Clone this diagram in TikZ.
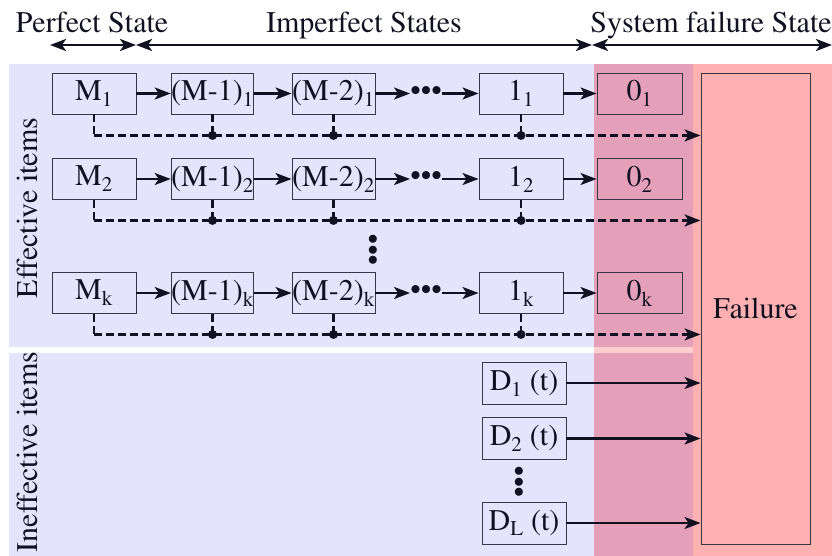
\documentclass[tikz,border=0pt]{standalone}
\usepackage[T1]{fontenc}
\renewcommand{\rmdefault}{ptm}
\usetikzlibrary{arrows.meta, positioning, calc}
\definecolor{state-blue}{RGB}{228,228,252}
\definecolor{state-pink}{RGB}{255,176,176}
\definecolor{state-mix}{RGB}{228,160,184}
\definecolor{state-gap}{RGB}{255,206,206}
\definecolor{state-ink}{RGB}{17,17,34}
\definecolor{state-line}{RGB}{55,55,70}

\begin{document}
\begin{tikzpicture}[x=1pt, y=-1pt,
  font=\rmfamily\fontsize{30}{34}\selectfont,
  state/.style={draw=state-line, line width=0.9pt, minimum width=84pt, minimum height=41pt, inner sep=0pt, text=state-ink},
  flow/.style={line width=2.5pt, draw=state-ink, -{Stealth[length=16pt,width=12pt,inset=4pt]}},
  link/.style={line width=2.5pt, draw=state-ink, dash pattern=on 8pt off 4pt},
  span/.style={line width=2.5pt, draw=state-ink, {Stealth[length=16pt,width=12pt,inset=4pt]}-{Stealth[length=16pt,width=12pt,inset=4pt]}},
  joint/.style={circle, fill=state-ink, inner sep=0pt, minimum size=9pt},
  dotsbox/.style={inner sep=0pt, text=state-ink},
]
  \useasboundingbox (0,0) rectangle (832,556);

  % Backgrounds
  \fill[state-pink] (594,64) rectangle (832,556);
  \fill[state-blue] (9,64) rectangle (594,347);
  \fill[state-mix] (594,64) rectangle (693,347);
  \fill[state-gap] (594,347) rectangle (693,353);
  \fill[state-blue] (9,353) rectangle (594,556);
  \fill[state-mix] (594,353) rectangle (693,556);

  % Header
  \node[anchor=base, text=state-ink] (perfect) at (92,33) {Perfect State};
  \node[anchor=base, text=state-ink] (imperfect) at (364,33) {Imperfect States};
  \node[anchor=base, text=state-ink] (sysfail) at (711,33) {System failure State};
  \coordinate (p0) at (50,45);
  \coordinate (p1) at (136,45);
  \coordinate (p2) at (592,45);
  \coordinate (p3) at (832,45);
  \draw[span] (p0) -- (p1);
  \draw[span] (p1) -- (p2);
  \draw[span] (p2) -- (p3);

  % Side labels
  \node[rotate=90, anchor=base, text=state-ink] (effective) at (37,208) {Effective items};
  \node[rotate=90, anchor=base, text=state-ink] (ineffective) at (37,452) {Ineffective items};

  % Failure
  \node[state, minimum width=109pt, minimum height=471pt] (fail) at (755.5,308.5) {Failure};

  % Row 1
  \node[state] (m1) at (94,93.5) {M\textsubscript{1}};
  \node[state, minimum width=81pt] (ma1) at (212.5,93.5) {(M-1)\textsubscript{1}};
  \node[state, minimum width=83pt] (mb1) at (333.5,93.5) {(M-2)\textsubscript{1}};
  \node[dotsbox] (dots1) at (426,93.5) {\textbullet\textbullet\textbullet};
  \node[state] (one1) at (521,93.5) {1\textsubscript{1}};
  \node[state, minimum width=85pt] (zero1) at (639.5,93.5) {0\textsubscript{1}};
  \draw[flow] (m1) -- (ma1);
  \draw[flow] (ma1) -- (mb1);
  \draw[flow] (mb1) -- (dots1);
  \draw[flow] (dots1) -- (one1);
  \draw[flow] (one1) -- (zero1);
  \draw[link] (m1.south) -- ++(0,21) coordinate (c1);
  \draw[link, -{Stealth[length=16pt,width=12pt,inset=4pt]}] (c1) -- (c1 -| fail.west);
  \draw[link] (ma1.south) -- (ma1.south |- c1) node[joint] {};
  \draw[link] (mb1.south) -- (mb1.south |- c1) node[joint] {};
  \draw[link] (one1.south) -- (one1.south |- c1) node[joint] {};

  % Row 2
  \node[state] (m2) at (94,179) {M\textsubscript{2}};
  \node[state, minimum width=81pt] (ma2) at (212.5,179) {(M-1)\textsubscript{2}};
  \node[state, minimum width=83pt] (mb2) at (333.5,179) {(M-2)\textsubscript{2}};
  \node[dotsbox] (dots2) at (426,179) {\textbullet\textbullet\textbullet};
  \node[state] (one2) at (521,179) {1\textsubscript{2}};
  \node[state, minimum width=85pt] (zero2) at (639.5,179) {0\textsubscript{2}};
  \draw[flow] (m2) -- (ma2);
  \draw[flow] (ma2) -- (mb2);
  \draw[flow] (mb2) -- (dots2);
  \draw[flow] (dots2) -- (one2);
  \draw[flow] (one2) -- (zero2);
  \draw[link] (m2.south) -- ++(0,20.5) coordinate (c2);
  \draw[link, -{Stealth[length=16pt,width=12pt,inset=4pt]}] (c2) -- (c2 -| fail.west);
  \draw[link] (ma2.south) -- (ma2.south |- c2) node[joint] {};
  \draw[link] (mb2.south) -- (mb2.south |- c2) node[joint] {};
  \draw[link] (one2.south) -- (one2.south |- c2) node[joint] {};

  \node[dotsbox, rotate=90] (vdots1) at (376,250) {\textbullet\textbullet\textbullet};

  % Row k
  \node[state] (mk) at (94,293) {M\textsubscript{k}};
  \node[state, minimum width=81pt] (mak) at (212.5,293) {(M-1)\textsubscript{k}};
  \node[state, minimum width=83pt] (mbk) at (333.5,293) {(M-2)\textsubscript{k}};
  \node[dotsbox] (dotsk) at (426,293) {\textbullet\textbullet\textbullet};
  \node[state] (onek) at (521,293) {1\textsubscript{k}};
  \node[state, minimum width=85pt] (zerok) at (639.5,293) {0\textsubscript{k}};
  \draw[flow] (mk) -- (mak);
  \draw[flow] (mak) -- (mbk);
  \draw[flow] (mbk) -- (dotsk);
  \draw[flow] (dotsk) -- (onek);
  \draw[flow] (onek) -- (zerok);
  \draw[link] (mk.south) -- ++(0,20.5) coordinate (ck);
  \draw[link, -{Stealth[length=16pt,width=12pt,inset=4pt]}] (ck) -- (ck -| fail.west);
  \draw[link] (mak.south) -- (mak.south |- ck) node[joint] {};
  \draw[link] (mbk.south) -- (mbk.south |- ck) node[joint] {};
  \draw[link] (onek.south) -- (onek.south |- ck) node[joint] {};

  % Ineffective items
  \node[state, minimum height=42pt] (d1) at (524,383) {D\textsubscript{1} (t)};
  \node[state, minimum height=42pt] (d2) at (524,438.5) {D\textsubscript{2} (t)};
  \node[dotsbox, rotate=90] (vdots2) at (522,482) {\textbullet\textbullet\textbullet};
  \node[state, minimum height=42pt] (dl) at (524,523) {D\textsubscript{L} (t)};
  \draw[flow] (d1) -- (d1 -| fail.west);
  \draw[flow] (d2) -- (d2 -| fail.west);
  \draw[flow] (dl) -- (dl -| fail.west);
\end{tikzpicture}
\end{document}
